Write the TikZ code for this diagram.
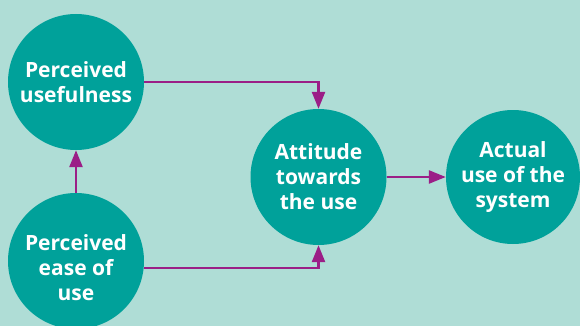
\documentclass[tikz,border=0pt]{standalone}
\usepackage{fontspec}
\setmainfont{Open Sans}
\usetikzlibrary{arrows.meta}
\definecolor{mint}{RGB}{175,221,214}
\definecolor{bubblegreen}{RGB}{0,161,154}
\definecolor{arrowpurple}{RGB}{155,30,135}
\begin{document}
\begin{tikzpicture}[x=1pt, y=-1pt,
	bubble/.style={circle, fill=bubblegreen, minimum size=136pt, inner sep=0pt},
	txt/.style={text=white, align=center, font=\bfseries\fontsize{21}{25}\selectfont},
	link/.style={draw=arrowpurple, line width=2.5pt, -{Triangle[length=17pt,width=13pt]}}]
	\useasboundingbox (0,0) rectangle (580,326);
	\fill[mint] (0,0) rectangle (580,326);
	\node[bubble,txt] (use)  at (76,82)    {Perceived\\usefulness};
	\node[bubble]     (ease) at (76,261)   {};
	\node[txt]   (easetext)  at (76,268)   {Perceived\\ease of\\use};
	\node[bubble,txt] (att)  at (318.5,177) {Attitude\\towards\\the use};
	\node[bubble,txt,minimum size=134pt] (act) at (513,177) {Actual\\use of the\\system};
	%pfeile
	\draw[link] (ease.north) -- (use.south);
	\draw[link] (use.east)   -| (att.north);
	\draw[link] (ease.-6)    -| (att.south);
	\draw[link] (att.east)   -- (act.west);
\end{tikzpicture}
\end{document}
